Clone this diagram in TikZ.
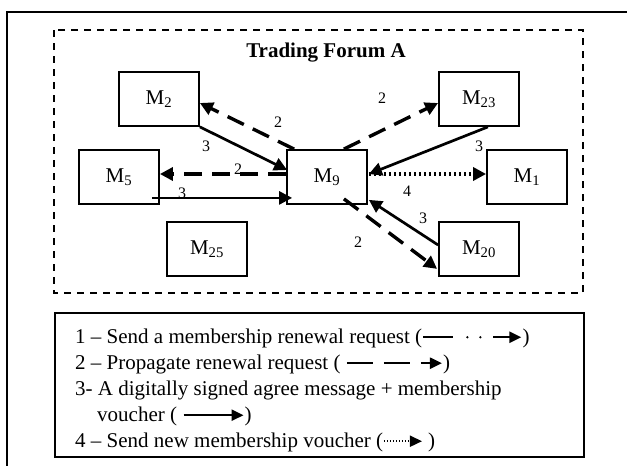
\documentclass[tikz,border=0pt]{standalone}
\usepackage{fontspec}
\setmainfont{Liberation Serif}
\usetikzlibrary{arrows.meta,calc}
\newcommand\legone{\tikz[baseline=-0.6ex]{%
  \draw[line width=2.4pt] (0pt,0pt)--(30pt,0pt);
  \fill (44pt,0pt) circle (1.3pt);
  \fill (57pt,0pt) circle (1.3pt);
  \draw[line width=2.4pt,-{Triangle[length=12pt,width=11pt]}] (70pt,0pt)--(98pt,0pt);}}
\newcommand\legtwo{\tikz[baseline=-0.6ex]{%
  \draw[line width=2.4pt,dash pattern=on 26pt off 11pt,-{Triangle[length=12pt,width=11pt]}] (0pt,0pt)--(95pt,0pt);}}
\newcommand\legthree{\tikz[baseline=-0.6ex]{%
  \draw[line width=2.4pt,-{Triangle[length=12pt,width=11pt]}] (0pt,0pt)--(60pt,0pt);}}
\newcommand\legfour{\tikz[baseline=-0.6ex]{%
  \draw[line width=1.7pt,dash pattern=on 1.5pt off 1.5pt,-{Triangle[length=12pt,width=11pt]}] (0pt,0pt)--(38pt,0pt);}}
\begin{document}
\begin{tikzpicture}[x=1pt,y=-1pt,
  box/.style={draw, line width=1.8pt, minimum width=80pt, minimum height=54pt, inner sep=0pt,
    font=\fontsize{21}{24}\selectfont},
  lbl/.style={font=\fontsize{16}{18}\selectfont, inner sep=0pt},
  legtext/.style={font=\fontsize{21}{24}\selectfont, inner sep=0pt, anchor=base west},
  tip/.style={-{Triangle[length=13pt,width=13pt]}},
  dasharr/.style={tip, line width=3.4pt, dash pattern=on 18pt off 10pt},
  solidarr/.style={tip, line width=2.7pt},
  dotarr/.style={tip, line width=3.6pt, dash pattern=on 2.5pt off 2.5pt},
  frame/.style={line width=1.8pt},
  forum/.style={line width=1.6pt, dash pattern=on 7pt off 6pt}]
\useasboundingbox (0,0) rectangle (627,466);
\fill[white] (0,0) rectangle (627,466);
% outer frame
\coordinate (fbl) at (7,466);
\coordinate (ftl) at (7,12);
\coordinate (ftr) at (627,12);
\draw[frame] (fbl) -- (ftl) -- (ftr);
% trading forum
\coordinate (tfa) at (54,30);
\coordinate (tfb) at (583,293);
\draw[forum] (tfa) rectangle (tfb);
\node[font=\bfseries\fontsize{21}{24}\selectfont, inner sep=0pt] (title) at (326,53) {Trading Forum A};
% members
\node[box] (M2)  at (159,99)  {M\textsubscript{2}};
\node[box] (M23) at (479,99)  {M\textsubscript{23}};
\node[box] (M5)  at (119,177) {M\textsubscript{5}};
\node[box] (M9)  at (327,177) {M\textsubscript{9}};
\node[box] (M1)  at (527,177) {M\textsubscript{1}};
\node[box] (M25) at (207,249) {M\textsubscript{25}};
\node[box] (M20) at (479,249) {M\textsubscript{20}};
% labels
\node[lbl] (l1) at (278,122) {2};
\node[lbl] (l2) at (206,146) {3};
\node[lbl] (l3) at (238,169) {2};
\node[lbl] (l4) at (182,193) {3};
\node[lbl] (l5) at (382,98)  {2};
\node[lbl] (l6) at (479,146) {3};
\node[lbl] (l7) at (407,191) {4};
\node[lbl] (l8) at (423,218) {3};
\node[lbl] (l9) at (358,242) {2};
% connectors
\draw[dasharr] ($(M9.north west)+(8,0)$) -- ($(M2.east)+(0,4)$);
\draw[solidarr] (M2.south east) -- ($(M9.west)+(1,-7)$);
\draw[dasharr] ($(M9.west)+(0,-3)$) -- ($(M5.east)+(0,-3)$);
\draw[solidarr] ($(M5.south east)+(-8,-7)$) -- ($(M9.south west)+(6,-7)$);
\draw[dasharr] ($(M9.north east)+(-24,0)$) -- ($(M23.west)+(0,4)$);
\draw[solidarr] ($(M23.south east)+(-32,0)$) -- ($(M9.east)+(1,-3)$);
\draw[dotarr] ($(M9.east)+(1,-3)$) -- ($(M1.west)+(0,-3)$);
\draw[solidarr] ($(M20.west)+(0,-4)$) -- ($(M9.south east)+(1,-5)$);
\draw[dasharr] ($(M9.south east)+(-24,-6)$) -- ($(M20.south west)+(-1,-8)$);
% legend
\node[draw, line width=1.8pt, minimum width=529pt, minimum height=144pt, anchor=north west, inner sep=0pt] (legend) at (54,312) {};
\node[legtext] (leg1) at (75,343) {1 – Send a membership renewal request (\legone)};
\node[legtext] (leg2) at (75,369) {2 – Propagate renewal request ( \legtwo)};
\node[legtext] (leg3) at (75,395) {3- A digitally signed agree message + membership};
\node[legtext] (leg4) at (97,421) {voucher ( \legthree)};
\node[legtext] (leg5) at (75,447) {4 – Send new membership voucher (\legfour{} )};
\end{tikzpicture}
\end{document}
